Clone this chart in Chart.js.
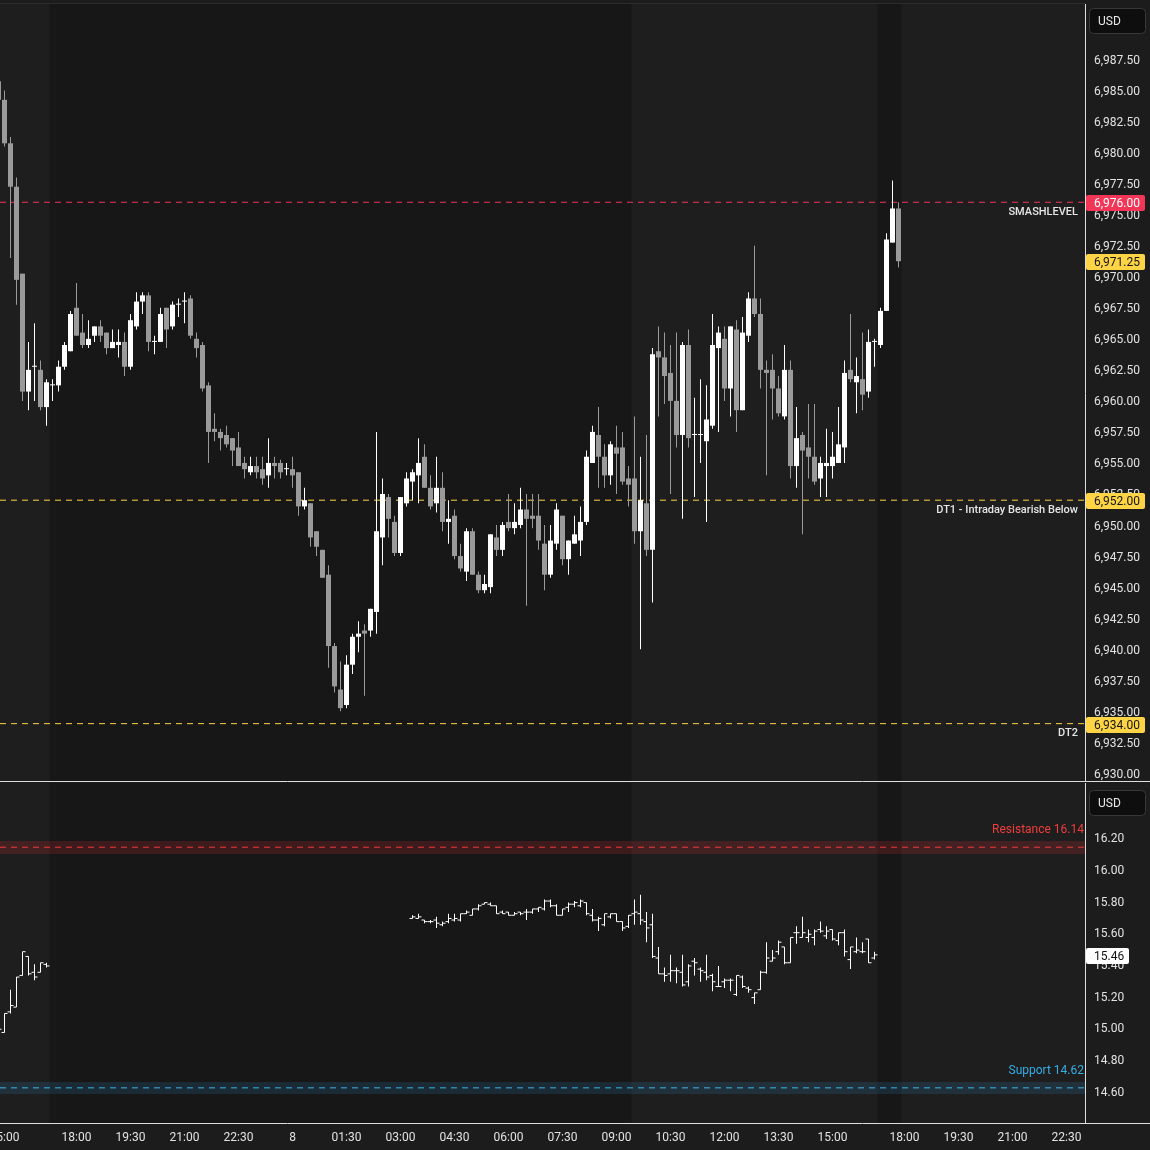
<!DOCTYPE html>
<html>
<head>
<meta charset="utf-8">
<script src="https://cdn.jsdelivr.net/npm/chart.js@4.4.1/dist/chart.umd.min.js"></script>
<style>
html, body { margin: 0; padding: 0; background: #1c1c1c; }
#wrap { position: relative; width: 1150px; height: 1150px; overflow: hidden; }
canvas { position: absolute; left: 0; }
#top { top: 0; }
#bottom { top: 782px; }
</style>
</head>
<body>
<div id="wrap">
  <canvas id="top" width="1150" height="782"></canvas>
  <canvas id="bottom" width="1150" height="368"></canvas>
</div>
<script>
// 10 minute ES bars, bar index -1 .. 149 (index 0 = 15:00, 12 = 18:00 after the break)
const esFirst = -1;
const esOpen = [6985.75,
  6984.25, 6980.75, 6977.25, 6970.25, 6960.75, 6962.75, 6962.5, 6959.5, 6961.25, 6961.25,
  6962.75, 6964, 6967.5, 6965.5, 6964.5, 6965.25, 6966, 6965.5, 6964.25, 6964.5,
  6964.75, 6962.75, 6966, 6968, 6968.5, 6964.75, 6964.75, 6967.5, 6966, 6967.75,
  6968, 6968.25, 6965, 6964.5, 6961.25, 6957.75, 6957.5, 6957.25, 6957, 6956.25,
  6955, 6954.25, 6954.75, 6954.5, 6954, 6955, 6955, 6954.5, 6954.5, 6954.25,
  6951.5, 6951.75, 6949.5, 6948, 6946, 6940.25, 6936.75, 6935.5, 6938.75, 6941,
  6941.5, 6941.5, 6943, 6949, 6952.25, 6950.25, 6947.75, 6951.75, 6953.5, 6954,
  6955.5, 6953, 6951.75, 6953, 6950.25, 6950.75, 6947.5, 6946.25, 6949.5, 6946,
  6944.75, 6945, 6949, 6948, 6950.25, 6949.75, 6950, 6951.25, 6950.75, 6950.75,
  6948.5, 6946, 6948.5, 6950.75, 6947.25, 6948.5, 6948.75, 6950.25, 6955, 6957.25,
  6955.5, 6954, 6956.25, 6956.25, 6953.75, 6953.75, 6949.5, 6951.75, 6948, 6964,
  6963.5, 6962.25, 6960, 6957.25, 6964.5, 6957.25, 6957.25, 6956.75, 6958, 6964.25,
  6965, 6961, 6965.75, 6959.25, 6965.25, 6968.25, 6967, 6962.5, 6962.5, 6961,
  6958.75, 6962.5, 6954.75, 6957.25, 6956.25, 6955.5, 6953.75, 6954.75, 6954.75, 6955,
  6956.25, 6962.5, 6961.5, 6961.75, 6960.75, 6964.75, 6964.5, 6967.25, 6972.75, 6975.5];
const esHigh = [6986.25,
  6985, 6981.25, 6978, 6970.25, 6964.75, 6966.25, 6963.25, 6961.75, 6961.75, 6963.25,
  6964.75, 6967.25, 6969.5, 6967, 6966.5, 6966, 6966.5, 6965.5, 6965.75, 6965.75,
  6965.5, 6967, 6968.75, 6968.75, 6968.75, 6965.25, 6967.5, 6967.5, 6968, 6968.25,
  6968.75, 6968.5, 6965.5, 6964.75, 6961.5, 6959, 6957.75, 6958, 6957, 6957.5,
  6955.5, 6955.5, 6955.5, 6955.5, 6957, 6955.5, 6955.25, 6955, 6955.5, 6954.25,
  6953, 6951.75, 6949.5, 6948, 6946.75, 6940.5, 6939, 6939.5, 6941.25, 6942.25,
  6942, 6943.25, 6957.5, 6953.75, 6952.5, 6950.75, 6952.25, 6954.25, 6954.5, 6957,
  6956.5, 6954, 6955.5, 6954.25, 6952, 6951.25, 6948.5, 6949.75, 6949.75, 6946.25,
  6946, 6949.25, 6950, 6950.25, 6952.5, 6951.75, 6953, 6952.5, 6952.5, 6952.5,
  6950, 6950, 6951.75, 6950.75, 6948.75, 6950.75, 6951.5, 6956, 6958, 6959.5,
  6956.5, 6956.75, 6958, 6957.5, 6954.75, 6958.75, 6955.5, 6957.25, 6964.25, 6966,
  6965.5, 6964.5, 6965.5, 6964.75, 6965.75, 6960.25, 6961.75, 6961.25, 6967, 6966,
  6966, 6966, 6966.5, 6966.75, 6968.75, 6972.5, 6968.25, 6963.25, 6963.75, 6962,
  6964.5, 6963.25, 6959.5, 6957.5, 6959.75, 6959.75, 6955.5, 6957.75, 6957.5, 6959.5,
  6963.25, 6967, 6963.5, 6965.5, 6965.75, 6965, 6967.5, 6973.5, 6977.75, 6976];
const esLow = [6984,
  6980.5, 6971.5, 6967.75, 6960, 6959.25, 6960, 6959.25, 6958, 6960, 6960.75,
  6962.5, 6964, 6965.25, 6964.25, 6964.25, 6964.75, 6964.75, 6963.75, 6964.25, 6963.5,
  6962, 6962.5, 6965.75, 6967, 6964, 6963.75, 6964.75, 6964.25, 6965.75, 6966.75,
  6966.25, 6965, 6963.5, 6960.75, 6955, 6956.75, 6956, 6956.25, 6954.75, 6954.75,
  6953.75, 6954, 6953.75, 6953.25, 6953, 6953.75, 6953.75, 6954, 6953, 6950.75,
  6951.25, 6948.25, 6947.5, 6945.75, 6938.5, 6936.5, 6935, 6935.25, 6938, 6939.75,
  6936.25, 6941, 6941.25, 6946.75, 6949, 6947.5, 6947.5, 6951.5, 6952, 6951.75,
  6953, 6951.25, 6951, 6949.5, 6948.5, 6947.25, 6946.25, 6945.5, 6946, 6944.5,
  6944.5, 6944.5, 6947.5, 6947.5, 6949.5, 6949.25, 6949.75, 6943.5, 6949.75, 6948,
  6944.75, 6945.75, 6948, 6946.75, 6946, 6948.5, 6947.5, 6950, 6955, 6953,
  6953, 6953.25, 6952.5, 6953.25, 6951.5, 6948.5, 6940, 6947.5, 6943.75, 6958.75,
  6959.75, 6952.5, 6956.25, 6950.5, 6956.25, 6952.25, 6955, 6950.25, 6957.75, 6957.5,
  6960, 6958.75, 6957.5, 6959.25, 6964.75, 6966.75, 6961, 6954, 6958.5, 6958.75,
  6958.5, 6953.75, 6953, 6949.25, 6953.75, 6953.25, 6952.25, 6952.25, 6953.75, 6955,
  6955, 6961.5, 6959, 6959.25, 6960.25, 6962.75, 6964.25, 6967.25, 6972.75, 6970.75];
const esClose = [6984.25,
  6980.75, 6977.25, 6969.75, 6960.75, 6962.5, 6962.75, 6959.5, 6961.5, 6961.25, 6962.75,
  6964.5, 6967, 6965.25, 6964.5, 6965, 6966, 6965.25, 6964.25, 6964.75, 6964.75,
  6962.75, 6966.5, 6968, 6968.5, 6964.75, 6964.75, 6967, 6965.75, 6967.75, 6967.75,
  6968, 6965.25, 6964.25, 6961, 6957.5, 6957.5, 6957, 6956.5, 6956, 6954.75,
  6954.5, 6954.75, 6954.25, 6953.75, 6955, 6954.75, 6954.25, 6954.5, 6954, 6951.5,
  6952, 6949, 6948.25, 6945.75, 6940.25, 6937, 6935.25, 6938.75, 6941, 6941.25,
  6941.25, 6943.25, 6949.5, 6952.5, 6950.5, 6947.75, 6952.25, 6953.75, 6954.25, 6955,
  6953, 6951.5, 6953, 6950.25, 6950.5, 6947.5, 6946.5, 6949.5, 6946, 6944.75,
  6945.25, 6949.25, 6948, 6950, 6949.75, 6950.25, 6951.25, 6950.5, 6950.5, 6948.75,
  6946, 6948.75, 6951.25, 6947.25, 6948.75, 6949.25, 6950.25, 6955.5, 6957.5, 6955.5,
  6954, 6956.5, 6955.75, 6953.5, 6953.25, 6949.5, 6952, 6948, 6963.75, 6963.5,
  6962, 6960, 6957.25, 6964.5, 6957, 6957.25, 6957.25, 6958.5, 6964.5, 6965.5,
  6961, 6966, 6959.25, 6965.5, 6968.25, 6967, 6962.5, 6962.25, 6961, 6959,
  6962.5, 6954.75, 6957, 6956, 6955.5, 6953.5, 6955, 6955, 6955.5, 6956.5,
  6962.25, 6961.75, 6962, 6960.5, 6964.75, 6964.75, 6967.25, 6973, 6975.5, 6971.25];

// VIX bars, two segments: bars -1..7 and 68..145
const vixSegments = [[-1, 7], [68, 145]];
const vixOpen = [14.95, 14.97, 15.10, 15.13, 15.33, 15.45, 15.35, 15.35, 15.40,
  15.69, 15.69, 15.68, 15.67, 15.68, 15.65, 15.67, 15.68, 15.68, 15.72,
  15.71, 15.75, 15.78, 15.78, 15.77, 15.73, 15.73, 15.71, 15.73, 15.73,
  15.73, 15.75, 15.75, 15.80, 15.77, 15.71, 15.76, 15.78, 15.77, 15.79,
  15.71, 15.68, 15.65, 15.70, 15.72, 15.67, 15.64, 15.72, 15.72, 15.67,
  15.65, 15.44, 15.34, 15.34, 15.36, 15.35, 15.29, 15.42, 15.37, 15.35,
  15.33, 15.26, 15.29, 15.30, 15.21, 15.32, 15.25, 15.19, 15.24, 15.35,
  15.42, 15.48, 15.51, 15.41, 15.60, 15.57, 15.57, 15.57, 15.62, 15.58,
  15.62, 15.55, 15.60, 15.43, 15.48, 15.48, 15.56, 15.44];
const vixHigh = [15.00, 15.09, 15.24, 15.32, 15.48, 15.45, 15.40, 15.41, 15.41,
  15.71, 15.72, 15.68, 15.68, 15.70, 15.67, 15.72, 15.72, 15.72, 15.74,
  15.75, 15.78, 15.79, 15.79, 15.77, 15.74, 15.73, 15.73, 15.73, 15.75,
  15.75, 15.76, 15.81, 15.81, 15.78, 15.75, 15.79, 15.80, 15.81, 15.79,
  15.75, 15.70, 15.72, 15.72, 15.72, 15.67, 15.71, 15.81, 15.84, 15.73,
  15.72, 15.51, 15.38, 15.46, 15.38, 15.46, 15.40, 15.44, 15.38, 15.46,
  15.34, 15.39, 15.31, 15.31, 15.33, 15.33, 15.26, 15.22, 15.36, 15.54,
  15.49, 15.55, 15.51, 15.57, 15.64, 15.70, 15.62, 15.62, 15.67, 15.64,
  15.62, 15.60, 15.62, 15.51, 15.57, 15.54, 15.56, 15.48];
const vixLow = [14.93, 14.97, 15.09, 15.13, 15.33, 15.33, 15.30, 15.35, 15.38,
  15.69, 15.69, 15.66, 15.66, 15.63, 15.64, 15.66, 15.67, 15.67, 15.72,
  15.71, 15.74, 15.78, 15.77, 15.72, 15.72, 15.71, 15.71, 15.71, 15.68,
  15.72, 15.73, 15.74, 15.76, 15.71, 15.71, 15.73, 15.76, 15.76, 15.71,
  15.67, 15.61, 15.64, 15.69, 15.67, 15.61, 15.63, 15.65, 15.65, 15.54,
  15.44, 15.34, 15.29, 15.29, 15.28, 15.26, 15.26, 15.33, 15.29, 15.30,
  15.23, 15.26, 15.25, 15.23, 15.20, 15.25, 15.22, 15.15, 15.24, 15.34,
  15.42, 15.46, 15.40, 15.41, 15.53, 15.57, 15.54, 15.52, 15.60, 15.56,
  15.55, 15.52, 15.45, 15.37, 15.47, 15.47, 15.41, 15.43];
const vixClose = [14.99, 15.09, 15.14, 15.32, 15.48, 15.34, 15.32, 15.41, 15.39,
  15.70, 15.70, 15.67, 15.67, 15.66, 15.66, 15.69, 15.69, 15.72, 15.73,
  15.75, 15.77, 15.79, 15.77, 15.72, 15.72, 15.71, 15.72, 15.72, 15.73,
  15.75, 15.76, 15.80, 15.77, 15.71, 15.75, 15.78, 15.79, 15.80, 15.72,
  15.68, 15.69, 15.72, 15.72, 15.67, 15.63, 15.71, 15.73, 15.68, 15.63,
  15.45, 15.34, 15.33, 15.36, 15.36, 15.27, 15.39, 15.41, 15.36, 15.32,
  15.29, 15.26, 15.30, 15.30, 15.33, 15.26, 15.24, 15.22, 15.35, 15.44,
  15.44, 15.54, 15.41, 15.57, 15.60, 15.60, 15.59, 15.61, 15.61, 15.61,
  15.56, 15.60, 15.48, 15.51, 15.49, 15.48, 15.41, 15.46];

// levels
const esLevelNames = ['SMASHLEVEL', 'DT1 - Intraday Bearish Below', 'DT2'];
const esLevels = [6976, 6952, 6934];
const esLast = 6971.25;
const vixLevelNames = ['Resistance 16.14', 'Support 14.62'];
const vixLevels = [16.14, 14.62];
const vixLast = 15.46;

// axis ticks
const esTicks = [];
for (let v = 6930; v <= 6987.5; v += 2.5) esTicks.push(v);
const vixTicks = [14.6, 14.8, 15.0, 15.2, 15.4, 15.6, 15.8, 16.0, 16.2];
const timeTicks = [0, 12, 21, 30, 39, 48, 57, 66, 75, 84, 93, 102, 111, 120, 129, 138, 150, 159, 168, 177];
const timeLabels = ['15:00', '18:00', '19:30', '21:00', '22:30', '8', '01:30', '03:00', '04:30', '06:00',
  '07:30', '09:00', '10:30', '12:00', '13:30', '15:00', '18:00', '19:30', '21:00', '22:30'];
// extended-hours shading (bar index ranges)
const ethRanges = [[7.5, 104.5], [145.5, 149.5]];

const UP = '#ffffff', DOWN = '#9a9a9a';
const RED = '#f23658', YELLOW = '#fdd445';
const xMin = -0.75, xMax = (1085 - 4.5) / 6;

Chart.defaults.font.family = 'Roboto';

const fmt2 = v => v.toLocaleString('en-US', {minimumFractionDigits: 2, maximumFractionDigits: 2});

const candles = esOpen.map((o, i) => ({x: esFirst + i, o, h: esHigh[i], l: esLow[i], c: esClose[i]}));
const candleColor = candles.map(d => d.c >= d.o ? UP : DOWN);

const vixX = [];
vixSegments.forEach(([a, b]) => { for (let k = a; k <= b; k++) vixX.push(k); });

function tag(ctx, x, y, w, text, bg, fg) {
  y = Math.round(y);
  ctx.fillStyle = bg;
  ctx.beginPath();
  ctx.roundRect(x, y - 7, w, 16, 2);
  ctx.fill();
  ctx.fillStyle = fg;
  ctx.font = '12px Roboto';
  ctx.textAlign = 'left';
  ctx.textBaseline = 'middle';
  ctx.fillText(text, x + 8, y + 2);
}

function usdBox(ctx, y) {
  ctx.fillStyle = '#0e0e0e';
  ctx.strokeStyle = '#383838';
  ctx.lineWidth = 1;
  ctx.beginPath();
  ctx.roundRect(1089.5, y + 0.5, 56, 25, 4);
  ctx.fill();
  ctx.stroke();
  ctx.fillStyle = '#e8e8e8';
  ctx.font = '12px Roboto';
  ctx.textAlign = 'left';
  ctx.textBaseline = 'middle';
  ctx.fillText('USD', 1098, y + 14);
}

const sessionBg = {
  id: 'sessionBg',
  beforeDraw(chart) {
    const {ctx, chartArea: a, scales: {x}} = chart;
    ctx.save();
    ctx.fillStyle = '#1e1e1e';
    ctx.fillRect(a.left, a.top, a.right - a.left, a.bottom - a.top);
    ctx.fillStyle = '#171717';
    ethRanges.forEach(([s, e]) => {
      const x0 = x.getPixelForValue(s), x1 = x.getPixelForValue(e);
      ctx.fillRect(x0, a.top, x1 - x0, a.bottom - a.top);
    });
    ctx.restore();
  }
};

const yAxisFit = s => { s.width = 65; s.paddingTop = 0; s.paddingBottom = 0; };

// ---------- top pane: ES candles ----------
new Chart(document.getElementById('top'), {
  type: 'bar',
  data: {
    datasets: [
      {
        data: candles.map(d => ({x: d.x, y: [d.l, d.h]})),
        backgroundColor: candleColor, barThickness: 1, grouped: false,
        minBarLength: 1, inflateAmount: 0, order: 2
      },
      {
        data: candles.map(d => ({x: d.x, y: [Math.min(d.o, d.c), Math.max(d.o, d.c)]})),
        backgroundColor: candleColor, barThickness: 5, grouped: false,
        minBarLength: 1, inflateAmount: 0, order: 1
      },
      ...esLevels.map((v, i) => ({
        type: 'line', data: [{x: xMin, y: v}, {x: xMax, y: v}],
        borderColor: i === 0 ? RED : YELLOW, borderWidth: 1, borderDash: [6, 5],
        pointRadius: 0, order: 10
      }))
    ]
  },
  options: {
    responsive: false, animation: false, events: [],
    layout: {autoPadding: false, padding: {top: 4, left: 0, right: 0, bottom: 0}},
    plugins: {legend: {display: false}, tooltip: {enabled: false}},
    scales: {
      x: {type: 'linear', min: xMin, max: xMax, offset: false, display: false},
      y: {
        position: 'right', min: 6929.30, max: 6991.97,
        afterFit: yAxisFit,
        afterBuildTicks: s => { s.ticks = esTicks.map(v => ({value: v})); },
        grid: {display: false, drawTicks: false},
        border: {color: '#dedede', width: 1},
        ticks: {color: '#e2e2e2', padding: 9, labelOffset: 1.5, font: {size: 12}, callback: v => fmt2(v)}
      }
    }
  },
  plugins: [sessionBg, {
    id: 'esDecor',
    afterDraw(chart) {
      const {ctx, chartArea: a, scales: {y}} = chart;
      ctx.save();
      ctx.font = '500 11px Roboto';
      ctx.fillStyle = '#e6e6e6';
      ctx.textAlign = 'right';
      ctx.textBaseline = 'middle';
      esLevels.forEach((v, i) => ctx.fillText(esLevelNames[i], a.right - 7, y.getPixelForValue(v) + 10));
      esLevels.forEach((v, i) => tag(ctx, a.right + 1, y.getPixelForValue(v), 59, fmt2(v),
        i === 0 ? RED : YELLOW, i === 0 ? '#ffffff' : '#141414'));
      tag(ctx, a.right + 1, y.getPixelForValue(esLast), 59, fmt2(esLast), YELLOW, '#141414');
      usdBox(ctx, 8);
      ctx.strokeStyle = '#dedede';
      ctx.beginPath();
      ctx.moveTo(0, chart.height - 0.5);
      ctx.lineTo(chart.width, chart.height - 0.5);
      ctx.stroke();
      ctx.strokeStyle = '#2c2c2c';
      ctx.beginPath();
      ctx.moveTo(0, 3.5);
      ctx.lineTo(a.right, 3.5);
      ctx.stroke();
      ctx.restore();
    }
  }]
});

// ---------- bottom pane: VIX OHLC bars ----------
new Chart(document.getElementById('bottom'), {
  type: 'bar',
  data: {
    datasets: [
      {
        data: vixX.map((x, i) => ({x, y: [vixLow[i], vixHigh[i]]})),
        backgroundColor: '#ffffff', barThickness: 1, grouped: false,
        minBarLength: 1, inflateAmount: 0, order: 1
      },
      {
        type: 'line', showLine: false,
        data: vixX.map((x, i) => ({x, y: vixOpen[i]})),
        pointStyle: 'dash', pointRotation: 180, pointRadius: 3,
        pointBorderColor: '#ffffff', pointBorderWidth: 1, order: 0
      },
      {
        type: 'line', showLine: false,
        data: vixX.map((x, i) => ({x, y: vixClose[i]})),
        pointStyle: 'dash', pointRotation: 0, pointRadius: 3,
        pointBorderColor: '#ffffff', pointBorderWidth: 1, order: 0
      },
      ...vixLevels.map((v, i) => ({
        type: 'line', data: [{x: xMin, y: v}, {x: xMax, y: v}],
        borderColor: i === 0 ? '#f23a3a' : '#3cb4ea', borderWidth: 1, borderDash: [6, 5],
        pointRadius: 0, order: 10
      }))
    ]
  },
  options: {
    responsive: false, animation: false, events: [],
    layout: {autoPadding: false, padding: {top: 1, left: 0, right: 0, bottom: 0}},
    plugins: {legend: {display: false}, tooltip: {enabled: false}},
    scales: {
      x: {
        type: 'linear', min: xMin, max: xMax, offset: false, position: 'bottom',
        afterFit: s => { s.height = 27; s.paddingLeft = 0; s.paddingRight = 0; },
        afterBuildTicks: s => { s.ticks = timeTicks.map(v => ({value: v})); },
        grid: {display: false, drawTicks: false},
        border: {display: false},
        ticks: {color: '#e2e2e2', padding: 8, maxRotation: 0, autoSkip: false, font: {size: 12},
          callback: (v, i) => timeLabels[i]}
      },
      y: {
        position: 'right', min: 14.398, max: 16.5455,
        afterFit: yAxisFit,
        afterBuildTicks: s => { s.ticks = vixTicks.map(v => ({value: v})); },
        grid: {display: false, drawTicks: false},
        border: {color: '#dedede', width: 1},
        ticks: {color: '#e2e2e2', padding: 9, labelOffset: 1.5, font: {size: 12}, callback: v => v.toFixed(2)}
      }
    }
  },
  plugins: [sessionBg, {
    id: 'vixBands',
    beforeDatasetsDraw(chart) {
      const {ctx, chartArea: a, scales: {y}} = chart;
      const fills = ['rgba(200, 40, 50, 0.22)', 'rgba(50, 140, 200, 0.18)'];
      ctx.save();
      vixLevels.forEach((v, i) => {
        const y0 = Math.round(y.getPixelForValue(v + 0.04)), y1 = Math.round(y.getPixelForValue(v - 0.04));
        ctx.fillStyle = fills[i];
        ctx.fillRect(a.left, y0, a.right - a.left, y1 - y0);
      });
      ctx.restore();
    },
    afterDraw(chart) {
      const {ctx, chartArea: a, scales: {y}} = chart;
      ctx.save();
      ctx.font = '12px Roboto';
      ctx.textAlign = 'right';
      ctx.textBaseline = 'middle';
      vixLevels.forEach((v, i) => {
        ctx.fillStyle = i === 0 ? '#f23d3d' : '#35aee6';
        ctx.fillText(vixLevelNames[i], a.right - 1, y.getPixelForValue(v) - 17);
      });
      tag(ctx, a.right + 1, y.getPixelForValue(vixLast), 43, vixLast.toFixed(2), '#ffffff', '#111111');
      usdBox(ctx, 8);
      ctx.strokeStyle = '#dedede';
      ctx.beginPath();
      ctx.moveTo(0, a.bottom + 0.5);
      ctx.lineTo(chart.width, a.bottom + 0.5);
      ctx.stroke();
      ctx.restore();
    }
  }]
});
</script>
</body>
</html>
